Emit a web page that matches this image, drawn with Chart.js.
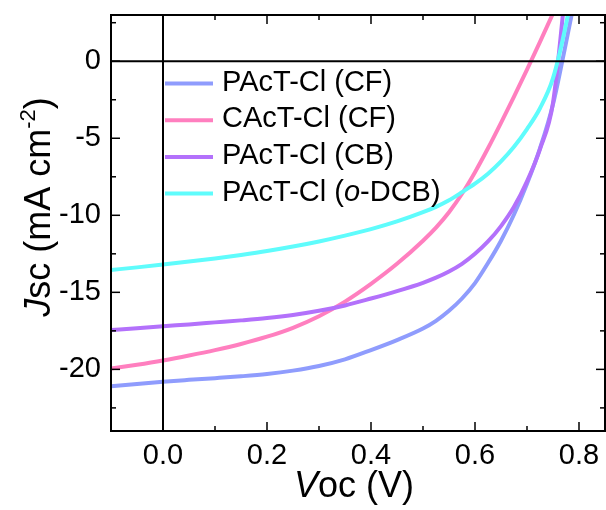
<!DOCTYPE html>
<html>
<head>
<meta charset="utf-8">
<script src="https://cdn.jsdelivr.net/npm/chart.js@4/dist/chart.umd.min.js"></script>
<style>
  html, body { margin: 0; padding: 0; background: #fff; }
  #wrap { width: 606px; height: 510px; }
</style>
</head>
<body>
<div id="wrap"><canvas id="jv" width="606" height="510"></canvas></div>
<script>
// Bias voltage (V) shared by all J-V sweeps
const voltage = [-0.1, -0.05, 0, 0.05, 0.1, 0.15, 0.2, 0.25, 0.3, 0.35, 0.4, 0.45, 0.5, 0.525, 0.55,
                 0.575, 0.6, 0.625, 0.65, 0.675, 0.7, 0.725, 0.75, 0.775, 0.8];

// Current density (mA cm^-2) for each device
const jPAcTClCF = [-21.1, -20.95, -20.8, -20.68, -20.57, -20.45, -20.3, -20.08, -19.78, -19.35, -18.75, -18.1, -17.35,
                   -16.85, -16.2, -15.4, -14.4, -13.1, -11.65, -9.95, -7.95, -5.65, -2.8, 1.2, 5.4];
const jCAcTClCF = [-19.95, -19.7, -19.42, -19.1, -18.75, -18.35, -17.88, -17.3, -16.55, -15.6, -14.45, -13.15, -11.65,
                   -10.8, -9.8, -8.6, -7.2, -5.65, -4.0, -2.3, -0.55, 1.25, 3.1, 5.0, 7.0];
const jPAcTClCB = [-17.45, -17.33, -17.2, -17.08, -16.95, -16.82, -16.67, -16.47, -16.2, -15.85, -15.4, -14.92, -14.38,
                   -14.05, -13.65, -13.15, -12.5, -11.7, -10.7, -9.45, -7.8, -5.7, -2.7, 5.0, 13.0];
const jPAcTClODCB = [-13.55, -13.38, -13.2, -13.0, -12.8, -12.57, -12.32, -12.03, -11.7, -11.32, -10.9, -10.4, -9.8,
                     -9.45, -9.02, -8.5, -7.95, -7.3, -6.5, -5.55, -4.4, -3.05, -1.1, 2.4, 7.0];

const seriesLabels = ['PAcT-Cl (CF)', 'CAcT-Cl (CF)', 'PAcT-Cl (CB)', 'PAcT-Cl (o-DCB)'];
const seriesColors = ['#8f9cfd', '#ff7fbf', '#b371fb', '#5ffcfc'];
const seriesValues = [jPAcTClCF, jCAcTClCF, jPAcTClCB, jPAcTClODCB];

// Axis ticks
const xMajorTicks = [0, 0.2, 0.4, 0.6, 0.8];
const xMinorTicks = [0.1, 0.3, 0.5, 0.7];
const yMajorTicks = [0, -5, -10, -15, -20];
const yMinorTicks = [2.5, -2.5, -7.5, -12.5, -17.5, -22.5];

const FONT = '"Liberation Sans", Arial, Helvetica, sans-serif';

// Draws a run of text pieces (italic / superscript) centred on x
function drawRich(ctx, segs, x, y, size) {
  const fontFor = s => (s.italic ? 'italic ' : '') + (s.sup ? Math.round(size * 0.6) : size) + 'px ' + FONT;
  let total = 0;
  segs.forEach(s => { ctx.font = fontFor(s); total += ctx.measureText(s.text).width; });
  let cx = x - total / 2;
  segs.forEach(s => {
    ctx.font = fontFor(s);
    ctx.fillText(s.text, cx, s.sup ? y - size * 0.42 : y);
    cx += ctx.measureText(s.text).width;
  });
  return total;
}

// Frame, zero lines and inward ticks on all four sides
const frameTicks = {
  id: 'frameTicks',
  afterDatasetsDraw(chart) {
    const { ctx, chartArea: a, scales: { x, y } } = chart;
    ctx.save();
    ctx.strokeStyle = '#000';
    ctx.lineCap = 'butt';
    const seg = (x1, y1, x2, y2) => { ctx.beginPath(); ctx.moveTo(x1, y1); ctx.lineTo(x2, y2); ctx.stroke(); };
    ctx.lineWidth = 2;
    const x0 = x.getPixelForValue(0), y0 = y.getPixelForValue(0);
    seg(x0, a.top, x0, a.bottom);
    seg(a.left, y0, a.right, y0);
    ctx.strokeRect(a.left, a.top, a.right - a.left, a.bottom - a.top);
    ctx.lineWidth = 1.5;
    const xt = (vals, len) => vals.forEach(v => {
      const p = x.getPixelForValue(v);
      seg(p, a.bottom, p, a.bottom - len);
      seg(p, a.top, p, a.top + len);
    });
    const yt = (vals, len) => vals.forEach(v => {
      const p = y.getPixelForValue(v);
      seg(a.left, p, a.left + len, p);
      seg(a.right, p, a.right - len, p);
    });
    xt(xMajorTicks, 9); xt(xMinorTicks, 5);
    yt(yMajorTicks, 9); yt(yMinorTicks, 5);
    ctx.restore();
  }
};

// Legend in the upper-left corner of the plot, plus the axis titles
const legendTitles = {
  id: 'legendTitles',
  afterDraw(chart) {
    const { ctx } = chart;
    ctx.save();
    ctx.fillStyle = '#000';
    ctx.textBaseline = 'alphabetic';
    chart.data.datasets.forEach((ds, i) => {
      const ly = 83.5 + i * 36.7;
      ctx.strokeStyle = ds.borderColor;
      ctx.lineWidth = 4;
      ctx.beginPath(); ctx.moveTo(165, ly); ctx.lineTo(213, ly); ctx.stroke();
      const m = ds.label.match(/^(.*\()o(-.*)$/);
      const segs = m ? [{ text: m[1] }, { text: 'o', italic: true }, { text: m[2] }] : [{ text: ds.label }];
      let w = 0;
      segs.forEach(s => { ctx.font = (s.italic ? 'italic ' : '') + '29px ' + FONT; w += ctx.measureText(s.text).width; });
      drawRich(ctx, segs, 222 + w / 2, ly + 7, 29);
    });
    // x-axis title
    drawRich(ctx, [{ text: 'V', italic: true }, { text: 'oc (V)' }], 354, 497, 36);
    // y-axis title
    ctx.translate(50, 207);
    ctx.rotate(-Math.PI / 2);
    drawRich(ctx, [{ text: 'J', italic: true }, { text: 'sc (mA cm' }, { text: '-2', sup: true }, { text: ')' }], 0, 0, 36);
    ctx.restore();
  }
};

const datasets = seriesValues.map((vals, i) => ({
  label: seriesLabels[i],
  data: voltage.map((v, k) => ({ x: v, y: vals[k] })),
  borderColor: seriesColors[i],
  backgroundColor: seriesColors[i],
  borderWidth: 4,
  pointRadius: 0,
  fill: false,
  cubicInterpolationMode: 'monotone',
  order: seriesValues.length - i,
  clip: 0
}));

new Chart(document.getElementById('jv'), {
  type: 'line',
  data: { datasets },
  options: {
    responsive: false,
    animation: false,
    layout: { padding: { left: 0, top: 15, right: 1, bottom: 0 } },
    plugins: { legend: { display: false }, tooltip: { enabled: false } },
    scales: {
      x: {
        type: 'linear', min: -0.1, max: 0.85,
        grid: { display: false, drawTicks: false },
        border: { display: false },
        afterBuildTicks: s => { s.ticks = xMajorTicks.map(v => ({ value: v })); },
        afterFit: s => { s.height = 79; s.paddingLeft = 0; s.paddingRight = 0; },
        ticks: {
          color: '#000', font: { family: FONT, size: 29 }, padding: 8,
          maxRotation: 0, autoSkip: false, callback: v => Number(v).toFixed(1)
        }
      },
      y: {
        type: 'linear', min: -24, max: 3,
        grid: { display: false, drawTicks: false },
        border: { display: false },
        afterBuildTicks: s => { s.ticks = yMajorTicks.map(v => ({ value: v })); },
        afterFit: s => { s.width = 111; s.paddingTop = 0; s.paddingBottom = 0; },
        ticks: { color: '#000', font: { family: FONT, size: 29 }, padding: 10, autoSkip: false, callback: v => String(v) }
      }
    }
  },
  plugins: [frameTicks, legendTitles]
});
</script>
</body>
</html>
